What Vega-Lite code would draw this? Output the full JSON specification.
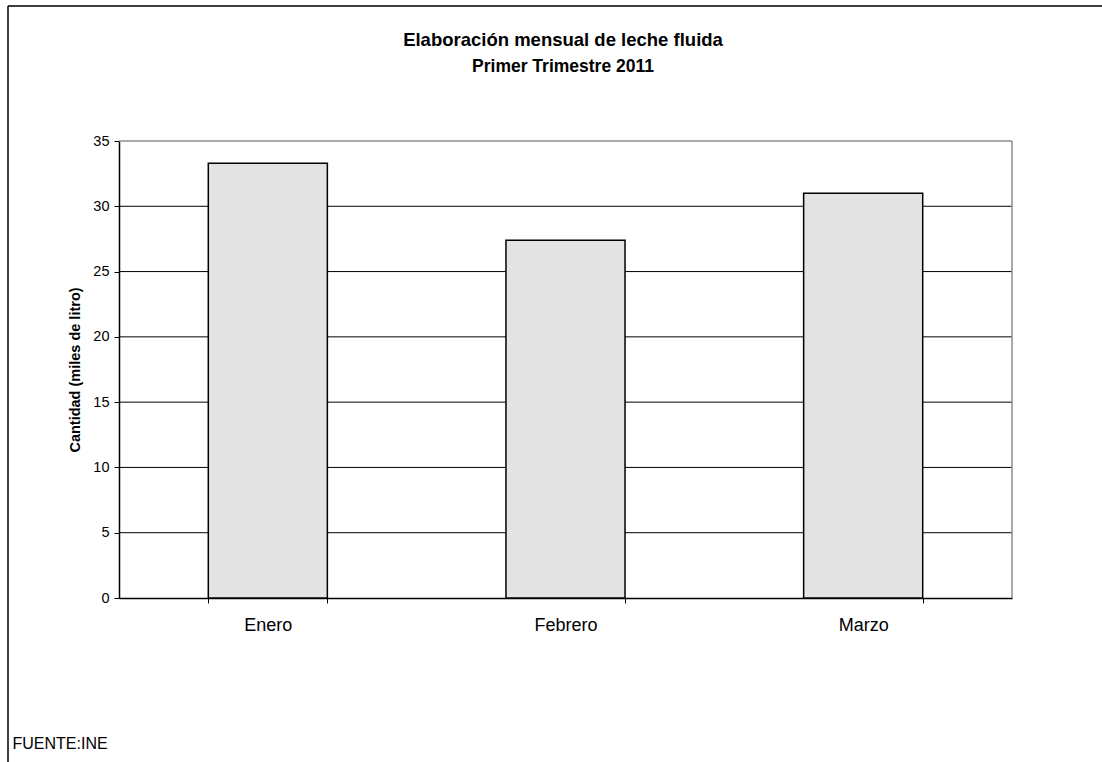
{
  "$schema": "https://vega.github.io/schema/vega-lite/v6.json",
  "width": 1094,
  "height": 756,
  "autosize": "none",
  "padding": {"left": 8, "top": 6, "right": 0, "bottom": 0},
  "background": "white",
  "config": {
    "font": "Liberation Sans"
  },
  "view": {"stroke": "black", "strokeWidth": 1.5, "strokeDash": [1094, 1850, 756, 0]},
  "title": {
    "text": "Elaboración mensual de leche fluida",
    "subtitle": "Primer Trimestre 2011",
    "fontSize": 18.5,
    "subtitleFontSize": 17.5,
    "fontWeight": "bold",
    "subtitleFontWeight": "bold",
    "subtitleColor": "black",
    "subtitlePadding": 8,
    "anchor": "middle",
    "frame": "group",
    "color": "black",
    "baseline": "top",
    "offset": 0,
    "dx": 8,
    "dy": 69
  },
  "datasets": {
    "leche": [
      {"mes": "Enero", "cantidad": 33.3},
      {"mes": "Febrero", "cantidad": 27.4},
      {"mes": "Marzo", "cantidad": 31.0}
    ],
    "grid": [
      {"x": 0, "x2": 1, "y": 5},
      {"x": 0, "x2": 1, "y": 10},
      {"x": 0, "x2": 1, "y": 15},
      {"x": 0, "x2": 1, "y": 20},
      {"x": 0, "x2": 1, "y": 25},
      {"x": 0, "x2": 1, "y": 30}
    ],
    "frame": [
      {"x": 0, "x2": 1, "y": 35, "y2": 35},
      {"x": 1, "x2": 1, "y": 0, "y2": 35}
    ]
  },
  "layer": [
    {
      "data": {"name": "grid"},
      "mark": {"type": "rule", "color": "black", "strokeWidth": 1},
      "encoding": {
        "x": {"field": "x", "type": "quantitative", "scale": {"domain": [0, 1], "range": [111, 1004]}, "axis": null},
        "x2": {"field": "x2"},
        "y": {"field": "y", "type": "quantitative", "scale": {"domain": [0, 35], "range": [592, 135], "nice": false}, "axis": null}
      }
    },
    {
      "data": {"name": "frame"},
      "mark": {"type": "rule", "color": "#8c8c8c", "strokeWidth": 1.5},
      "encoding": {
        "x": {"field": "x", "type": "quantitative", "scale": {"domain": [0, 1], "range": [111, 1004]}, "axis": null},
        "x2": {"field": "x2"},
        "y": {"field": "y", "type": "quantitative", "axis": null},
        "y2": {"field": "y2"}
      }
    },
    {
      "data": {"name": "leche"},
      "mark": {"type": "bar", "fill": "#e3e3e3", "stroke": "black", "strokeWidth": 1.5},
      "encoding": {
        "x": {
          "field": "mes",
          "type": "nominal",
          "sort": null,
          "scale": {"range": [111, 1004], "paddingInner": 0.6, "paddingOuter": 0.3},
          "axis": {
            "orient": "bottom",
            "offset": -164,
            "tickBand": "extent",
            "labelAngle": 0,
            "labelFontSize": 18,
            "labelColor": "black",
            "labelPadding": 13,
            "tickSize": 5,
            "tickColor": "black",
            "domainColor": "black",
            "domainWidth": 1.5,
            "title": "FUENTE:INE",
            "titleFontSize": 16,
            "titleFontWeight": "normal",
            "titleColor": "black",
            "titleAnchor": "start",
            "titleAlign": "left",
            "titleBaseline": "middle",
            "titleX": 4,
            "titleY": 145
          }
        },
        "y": {
          "field": "cantidad",
          "type": "quantitative",
          "scale": {"domain": [0, 35], "range": [592, 135], "nice": false},
          "axis": {
            "orient": "left",
            "offset": -111,
            "values": [0, 5, 10, 15, 20, 25, 30, 35],
            "grid": false,
            "labelFontSize": 14.5,
            "labelColor": "black",
            "labelPadding": 5,
            "tickSize": 5,
            "tickColor": "black",
            "domainColor": "black",
            "domainWidth": 1.5,
            "title": "Cantidad (miles de litro)",
            "titleFontSize": 14.5,
            "titleFontWeight": "bold",
            "titleColor": "black",
            "titlePadding": 10
          }
        }
      }
    }
  ],
  "resolve": {"scale": {"x": "independent"}, "axis": {"x": "independent", "y": "independent"}}
}
